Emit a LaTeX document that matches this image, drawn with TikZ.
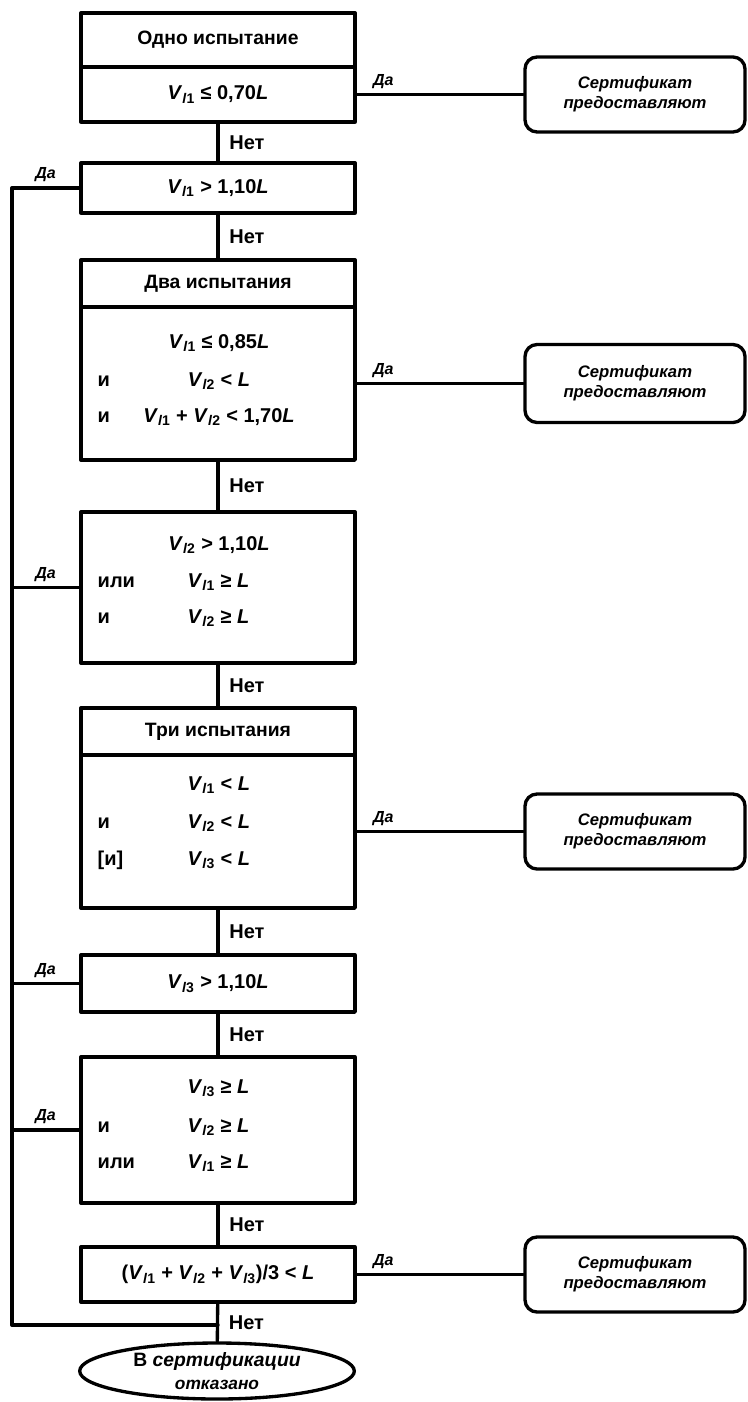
\documentclass[tikz,border=0pt]{standalone}
\usepackage{fontspec}
\setmainfont{Liberation Sans}
\usetikzlibrary{shapes.geometric}
\newcommand{\Vl}[1]{\textit{V}\textsubscript{\textit{l}#1}}
\newcommand{\Lv}{\textit{L}}
\begin{document}
\begin{tikzpicture}[x=0.75pt, y=-0.75pt, line join=round, line cap=round,
    font=\bfseries\fontsize{15}{17}\selectfont,
    box/.style={draw, line width=2.5pt, minimum width=205.5pt, minimum height=#1*0.75pt, inner sep=0pt},
    head/.style={font=\bfseries\fontsize{14.5}{17}\selectfont},
    cert/.style={draw, line width=2.5pt, rounded corners=9pt, minimum width=165pt, minimum height=#1*0.75pt,
        align=center, font=\bfseries\itshape\fontsize{12.5}{15}\selectfont},
    link/.style={line width=2.5pt},
    yes/.style={font=\bfseries\itshape\fontsize{12}{14}\selectfont},
    word/.style={anchor=west}]
	\useasboundingbox (0,0) rectangle (748,1402);
	% main column
	\node[box=54, head] (b1h) at (218,40) {Одно испытание};
	\node[box=55] (b1c) at (218,94.5) {\Vl{1} ≤ 0,70\Lv};
	\node[box=50] (b2) at (218,188) {\Vl{1} > 1,10\Lv};
	\node[box=47, head] (b3h) at (218,283.5) {Два испытания};
	\node[box=153] (b3c) at (218,383.5) {};
	\node (t3a) at (219,343) {\Vl{1} ≤ 0,85\Lv};
	\node (t3b) at (219,381) {\Vl{2} < \Lv};
	\node (t3c) at (219,417) {\Vl{1} + \Vl{2} < 1,70\Lv};
	\node[word] (w3b) at (93,381) {и};
	\node[word] (w3c) at (93,417) {и};
	\node[box=151] (b4) at (218,587.5) {};
	\node (t4a) at (219,545) {\Vl{2} > 1,10\Lv};
	\node[word] (t4b) at (183,582) {\Vl{1} ≥ \Lv};
	\node[word] (t4c) at (183,618) {\Vl{2} ≥ \Lv};
	\node[word] (w4b) at (93,582) {или};
	\node[word] (w4c) at (93,618) {и};
	\node[box=47, head] (b5h) at (218,731.5) {Три испытания};
	\node[box=153] (b5c) at (218,831.5) {};
	\node[word] (t5a) at (183,785) {\Vl{1} < \Lv};
	\node[word] (t5b) at (183,823) {\Vl{2} < \Lv};
	\node[word] (t5c) at (183,860) {\Vl{3} < \Lv};
	\node[word] (w5b) at (93,823) {и};
	\node[word] (w5c) at (93,860) {[и]};
	\node[box=57] (b6) at (218,983.5) {\Vl{3} > 1,10\Lv};
	\node[box=146] (b7) at (218,1130) {};
	\node[word] (t7a) at (183,1088) {\Vl{3} ≥ \Lv};
	\node[word] (t7b) at (183,1127) {\Vl{2} ≥ \Lv};
	\node[word] (t7c) at (183,1163) {\Vl{1} ≥ \Lv};
	\node[word] (w7b) at (93,1127) {и};
	\node[word] (w7c) at (93,1163) {или};
	\node[box=55] (b8) at (218,1274.5) {(\Vl{1} + \Vl{2} + \Vl{3})/3 < \Lv};
	\node[draw, ellipse, line width=2.5pt, minimum width=206pt, minimum height=42pt, inner sep=0pt, align=center,
	    font=\bfseries\fontsize{14.5}{17}\selectfont] (fin) at (217,1371) {В \textit{сертификации}\\{\fontsize{13}{15}\selectfont\textit{отказано}}};
	% certificate boxes
	\foreach \r/\y/\h in {r1/94.5/75, r2/383.5/78, r3/831.5/75, r4/1274.5/75}
		\node[cert=\h] (\r) at (635,\y) {Сертификат\\предоставляют};
	% connectors
	\foreach \a/\b in {b1c/b2,b2/b3h,b3c/b4,b4/b5h,b5c/b6,b6/b7,b7/b8,b8/fin}
		\draw[link] (\a) -- (\b) node[midway,right,xshift=4pt]{Нет};
	\foreach \a/\r in {b1c/r1,b3c/r2,b5c/r3,b8/r4}
		\draw[link, line width=2pt] (\a) -- (\r) node[yes,pos=0.16,above]{Да};
	\coordinate (busTop) at (12,188);
	\coordinate (busBot) at (12,1325);
	\coordinate (busEnd) at (218,1325);
	\draw[link] (b2.west) -- (busTop) node[yes,midway,above]{Да} -- (busBot) -- (busEnd);
	\foreach \b in {b4,b6,b7}
		\draw[link] (\b.west) -- (\b.west -| busTop) node[yes,midway,above]{Да};
\end{tikzpicture}
\end{document}
